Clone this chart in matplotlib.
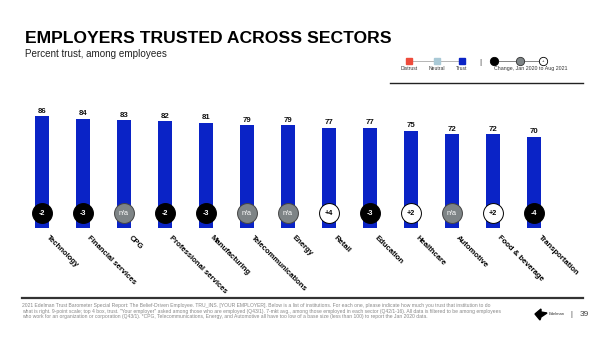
import matplotlib
matplotlib.use("Agg")
import matplotlib.pyplot as plt
from matplotlib.patches import Polygon
from matplotlib.lines import Line2D

plt.rcParams['font.family'] = ['Liberation Sans', 'DejaVu Sans']

categories = ["Technology", "Financial services", "CPG", "Professional services",
              "Manufacturing", "Telecommunications", "Energy", "Retail", "Education",
              "Healthcare", "Automotive", "Food & beverage", "Transportation"]
trust = [86, 84, 83, 82, 81, 79, 79, 77, 77, 75, 72, 72, 70]
change = ["-2", "-3", "n/a", "-2", "-3", "n/a", "n/a", "+4", "-3", "+2", "n/a", "+2", "-4"]

W, H = 600, 337
fig = plt.figure(figsize=(6, 3.37), dpi=100)

def fx(x):
    return x / W

def fy(y):
    return 1 - y / H

BLUE = "#0A23C6"
RED = "#EE4B3B"
LBLUE = "#A9C9D6"
GRAY = "#7E8486"

# main axes: centers 42..534 px, baseline at y=228 px, 1.3 px/unit
ax = fig.add_axes([fx(21.5), fy(228), 533 / W, 130 / H])
ax.set_xlim(-0.5, len(categories) - 0.5)
ax.set_ylim(0, 100)
ax.axis('off')
x = list(range(len(categories)))
ax.bar(x, trust, width=0.34, color=BLUE, zorder=1)
for i, v in enumerate(trust):
    ax.text(i, v + 1.2, str(v), ha='center', va='bottom', fontsize=5.6,
            fontweight='bold', color='#111111')

for i, c in enumerate(change):
    if c == "n/a":
        fc, ec, tc = GRAY, "#444444", "white"
    elif c.startswith("-"):
        fc, ec, tc = "black", "black", "white"
    else:
        fc, ec, tc = "white", "black", "black"
    ax.scatter([i], [11.5], s=205, facecolor=fc, edgecolor=ec, linewidth=0.7,
               zorder=3, clip_on=False)
    ax.text(i, 11.5, c, ha='center', va='center', fontsize=5.2, color=tc,
            fontweight='bold' if c != "n/a" else 'normal', zorder=4)

for i, lab in enumerate(categories):
    ax.text(i + 0.13, -6.5, lab, rotation=-45, rotation_mode='anchor',
            ha='left', va='center', fontsize=5.5, fontweight='bold',
            color='black', clip_on=False)

# title & subtitle
fig.text(fx(25), fy(43), "EMPLOYERS TRUSTED ACROSS SECTORS", fontsize=12.6,
         fontweight='bold', ha='left', va='baseline', color='black')
fig.text(fx(25), fy(57), "Percent trust, among employees", fontsize=7.1,
         ha='left', va='baseline', color='#222222')

# legend
fig.add_artist(Line2D([fx(409), fx(462)], [fy(61), fy(61)], color='#999999', lw=0.5))
for xx, col, lab in [(409, RED, "Distrust"), (437, LBLUE, "Neutral"), (462, BLUE, "Trust")]:
    fig.add_artist(Line2D([fx(xx)], [fy(61)], marker='s', markersize=5,
                          markerfacecolor=col, markeredgecolor=col, lw=0))
    fig.text(fx(xx), fy(70), lab, fontsize=3.6, ha='center', va='baseline', color='#333333')
fig.text(fx(480), fy(62), "|", fontsize=6, ha='center', va='center', color='#333333')
fig.add_artist(Line2D([fx(494), fx(543)], [fy(61), fy(61)], color='#555555', lw=0.5))
for xx, fc, ec in [(494, 'black', 'black'), (520, GRAY, '#333333'), (543, 'white', 'black')]:
    fig.add_artist(Line2D([fx(xx)], [fy(61)], marker='o', markersize=6,
                          markerfacecolor=fc, markeredgecolor=ec, markeredgewidth=0.6, lw=0))
fig.text(fx(543), fy(61), "+", fontsize=3, ha='center', va='center', color='black')
fig.text(fx(531), fy(70), "Change, Jan 2020 to Aug 2021", fontsize=3.8,
         ha='center', va='baseline', color='#333333')
fig.add_artist(Line2D([fx(390), fx(583)], [fy(83), fy(83)], color='#222222', lw=1.0))

# footer
fig.add_artist(Line2D([fx(22), fx(583)], [fy(298), fy(298)], color='#333333', lw=1.6))
footer = [
    "2021 Edelman Trust Barometer Special Report: The Belief-Driven Employee. TRU_INS. [YOUR EMPLOYER]. Below is a list of institutions. For each one, please indicate how much you trust that institution to do",
    "what is right. 9-point scale; top 4 box, trust. \"Your employer\" asked among those who are employed (Q43/1). 7-mkt avg., among those employed in each sector (Q42/1-16). All data is filtered to be among employees",
    "who work for an organization or corporation (Q43/1). *CPG, Telecommunications, Energy, and Automotive all have too low of a base size (less than 100) to report the Jan 2020 data.",
]
for k, line in enumerate(footer):
    fig.text(fx(22), fy(307 + k * 5.6), line, fontsize=3.65, ha='left',
             va='baseline', color='#888888')

# logo and page number
logo = Polygon([[fx(535), fy(314)], [fx(541), fy(309)], [fx(541), fy(312)],
                [fx(547), fy(313)], [fx(541), fy(317)], [fx(540), fy(320)]],
               closed=True, transform=fig.transFigure, color='black')
fig.add_artist(logo)
fig.text(fx(549), fy(314), "Edelman", fontsize=3, ha='left', va='center', color='#333333')
fig.text(fx(571), fy(314), "|", fontsize=5.5, ha='center', va='center', color='#444444')
fig.text(fx(580), fy(314), "39", fontsize=6, ha='left', va='center', color='#444444')

fig.savefig("out.png", dpi=100, facecolor='white')
